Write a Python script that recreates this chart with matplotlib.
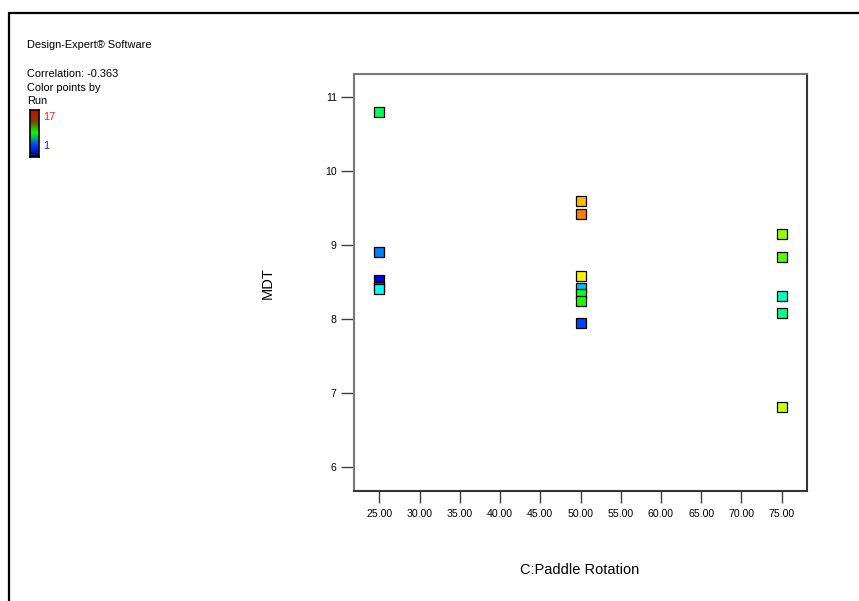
import numpy as np
import matplotlib
matplotlib.use('Agg')
import matplotlib.pyplot as plt
from matplotlib.colors import hsv_to_rgb, LinearSegmentedColormap
from matplotlib.patches import Rectangle

### DATA ###
# points listed in drawing order
paddle_rotation = [25, 25, 25, 25, 25,
                   50, 50, 50, 50, 50, 50, 50,
                   75, 75, 75, 75, 75]
mdt = [10.80, 8.905, 8.527, 8.44, 8.41,
       9.60, 9.42, 8.585, 8.427, 8.34, 8.25, 7.95,
       9.15, 8.84, 8.32, 8.085, 6.82]
run = [8, 3, 1, 17, 5,
       15, 16, 14, 4, 9, 10, 2,
       12, 11, 6, 7, 13]

x_ticks = [25, 30, 35, 40, 45, 50, 55, 60, 65, 70, 75]
y_ticks = [6, 7, 8, 9, 10, 11]
correlation = -0.363


### FUNCTIONS ###
# Map run number to a rainbow colour (blue for run 1, red for run 17)
def run_color(r):
    hue = np.interp(r, [1, 5, 9, 14, 16, 17], [240, 180, 128, 57, 30, 0]) / 360
    val = np.interp(r, [1, 2], [0.88, 1.0])
    return hsv_to_rgb([hue, 1.0, val])


def main():
    plt.rcParams['font.family'] = ['Liberation Sans', 'DejaVu Sans']
    fig = plt.figure(figsize=(8.59, 6.01), dpi=100)

    # Outer frame
    fig.patches.append(Rectangle((9 / 859, -0.1), 1.2, 1 - 13 / 601 + 0.1,
                                 transform=fig.transFigure, fill=False,
                                 edgecolor='black', linewidth=1.6))

    ax = fig.add_axes([354 / 859, 1 - 491 / 601, (807 - 354) / 859, (491 - 73.7) / 601])
    colors = [run_color(r) for r in run]
    shadow = ax.transData + matplotlib.transforms.ScaledTranslation(0.5 / 72, -0.7 / 72, fig.dpi_scale_trans)
    for x, y, c in zip(paddle_rotation, mdt, colors):
        # faint shadow then the marker itself
        ax.plot(x, y, marker='s', markersize=7.2, color='#b0b0b0', linestyle='none',
                markeredgewidth=0, zorder=2, transform=shadow)
        ax.plot(x, y, marker='s', markersize=6.6, markerfacecolor=c,
                markeredgecolor='black', markeredgewidth=0.9, linestyle='none', zorder=3)

    ax.set_xlim(21.85, 78.15)
    ax.set_ylim(5.68, 11.32)
    ax.set_xticks(x_ticks)
    ax.set_xticklabels([f'{v:.2f}' for v in x_ticks])
    ax.set_yticks(y_ticks)
    ax.set_yticklabels([str(v) for v in y_ticks])
    ax.tick_params(axis='x', direction='out', length=8.6, width=1, color='#404040',
                   labelsize=7.6, pad=4.2)
    ax.tick_params(axis='y', direction='out', length=9.4, width=1, color='#404040',
                   labelsize=7.6, pad=3)
    for side in ['left', 'top']:
        ax.spines[side].set_color('#777777')
        ax.spines[side].set_linewidth(1.5)
    for side in ['right', 'bottom']:
        ax.spines[side].set_color('#333333')
        ax.spines[side].set_linewidth(1.5)

    # Axis titles
    fig.text(268 / 859, 1 - 283 / 601, 'MDT', rotation=90, ha='center', va='center', fontsize=10.5)
    fig.text(580 / 859, 1 - 570 / 601, 'C:Paddle Rotation', ha='center', va='center', fontsize=10.5)

    # Header text
    hdr = dict(ha='left', va='center', fontsize=7.9)
    fig.text(27 / 859, 1 - 45 / 601, 'Design-Expert® Software', **hdr)
    fig.text(27 / 859, 1 - 74 / 601, f'Correlation: {correlation}', **hdr)
    fig.text(27 / 859, 1 - 88 / 601, 'Color points by', **hdr)
    fig.text(27 / 859, 1 - 101 / 601, 'Run', **hdr)

    # Run colour bar
    cax = fig.add_axes([30 / 859, 1 - 157 / 601, 9 / 859, 47 / 601])
    bar_cmap = LinearSegmentedColormap.from_list('run_bar', ['#000080', '#0040ff', '#00ff00', '#804000', '#e00000'])
    cax.imshow(np.linspace(0, 1, 100).reshape(-1, 1), cmap=bar_cmap, aspect='auto', origin='lower')
    cax.set_xticks([])
    cax.set_yticks([])
    for s in cax.spines.values():
        s.set_linewidth(1.2)
        s.set_color('black')
    fig.text(43 / 859, 1 - 117 / 601, str(max(run)), color='#ff2020', ha='left', va='center', fontsize=7.9)
    fig.text(43 / 859, 1 - 146 / 601, str(min(run)), color='#2020ff', ha='left', va='center', fontsize=7.9)

    fig.savefig('out.png', dpi=100)


if __name__ == '__main__':
    main()
